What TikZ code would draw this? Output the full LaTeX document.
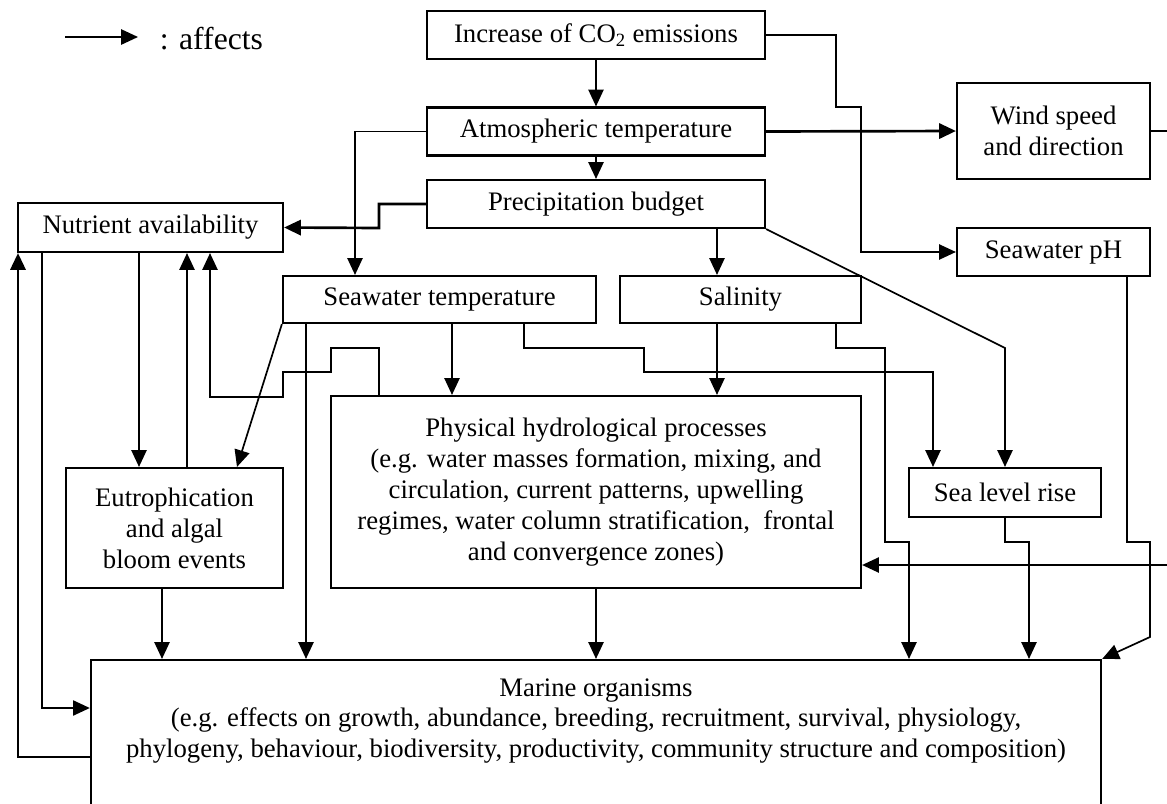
\documentclass[tikz,border=0pt]{standalone}
\usepackage{fontspec}
\setmainfont{Liberation Serif}
\usetikzlibrary{arrows.meta,positioning,calc}

\begin{document}
\begin{tikzpicture}[
    x=0.025cm, y=-0.025cm, % 以像素為單位 (y 向下)
    font=\fontsize{19}{22}\selectfont, % 襯線字體
    line width=1.2pt,
    >={Triangle[length=0.42cm,width=0.38cm]}, % 實心三角箭頭
    % 定義通用樣式
    box/.style={
        draw,
        fill=white,
        line width=1.5pt,
        align=center,
        inner sep=0pt,
        minimum height=1.2cm
    },
    bold line/.style={line width=1.9pt}
]
    \useasboundingbox (0,0) rectangle (1167,804);

    % --- 1. Legend (左上) ---
    \coordinate (legA) at (65,37);
    \coordinate (legB) at (138,37);
    \node[anchor=west, inner sep=0pt, font=\fontsize{22.5}{26}\selectfont] (legend) at (159,39) {: affects};
    \draw[->] (legA) -- (legB);

    % --- 2. 上方方塊 ---
    \node[box, minimum width=8.45cm] (co2) at (596,35) {Increase of CO\textsubscript{2} emissions};
    \node[box, minimum width=8.45cm] (atmos) at (596,131.5) {Atmospheric temperature};
    \node[box, minimum width=8.45cm] (precip) at (596,204) {Precipitation budget};
    \node[box, minimum width=4.825cm, minimum height=2.4cm] (wind) at (1053.5,131) {Wind speed\\and direction};
    \node[box, minimum width=4.825cm] (ph) at (1053.5,252) {Seawater pH};

    % --- 3. 中間方塊 ---
    \node[box, minimum width=6.625cm, minimum height=1.225cm] (nutri) at (150.5,227.5) {Nutrient availability};
    \node[box, minimum width=7.825cm, minimum height=1.175cm] (swtemp) at (439.5,299.5) {Seawater temperature};
    \node[box, minimum width=6.025cm, minimum height=1.175cm] (salin) at (740.5,299.5) {Salinity};
    \node[box, minimum width=5.425cm, minimum height=3cm] (eutro) at (174.5,528) {Eutrophication\\and algal\\bloom events};
    \node[box, minimum width=13.25cm, minimum height=4.8cm] (phys) at (596,492) {Physical hydrological processes\\(e.g. water masses formation, mixing, and\\circulation, current patterns, upwelling\\regimes, water column stratification,~ frontal\\and convergence zones)};
    \node[box, minimum width=4.8cm, minimum height=1.225cm] (slr) at (1005,492.5) {Sea level rise};

    % --- 4. Marine organisms (下方, 底邊在圖外) ---
    \node[box, minimum width=25.25cm, minimum height=4.5cm] (marine) at (596,750) {};
    \node[align=center, inner sep=0pt] (marinetxt) at (596,721) {Marine organisms\\(e.g. effects on growth, abundance, breeding, recruitment, survival, physiology,\\phylogeny, behaviour, biodiversity, productivity, community structure and composition)};

    % --- 5. Arrows (連線) ---
    \draw[->] (co2) -- (atmos);
    \draw[->] (atmos) -- (precip);
    \draw[->] (co2.east) -| (836,107) -| (861,252) -- (ph.west);
    \draw[->, bold line] (atmos.east) -- (wind.west);
    \draw[->] (wind.east) -- (1170,131) |- ($(phys.east)+(0,73)$);
    \draw[->] (atmos.west) -| (355,0 |- swtemp.north);
    \draw[->, bold line] (precip.west) -| (379,228) -- (nutri.east);
    \draw[->] (717,0 |- precip.south) -- (717,0 |- salin.north);
    \draw[->] (precip.south east) -- (1005,348) -- (slr.north);
    \draw[->] (1127,0 |- ph.south) |- (1150,542) -- (1150,637) -- (marine.north east);

    % Seawater temperature 出發
    \draw[->] (swtemp.south west) -- (237,0 |- eutro.north);
    \draw[->] (306,0 |- swtemp.south) -- (306,0 |- marine.north);
    \draw[->] (452,0 |- swtemp.south) -- (452,0 |- phys.north);
    \draw[->] (524,0 |- swtemp.south) |- (644,348) |- (933,372) -- (933,0 |- slr.north);

    % Salinity 出發
    \draw[->] (717,0 |- salin.south) -- (717,0 |- phys.north);
    \draw[->] (836,0 |- salin.south) |- (885,348) |- (909,542) -- (909,0 |- marine.north);
    \draw[->] (slr.south) |- (1029,542) -- (1029,0 |- marine.north);

    % 回饋到 Nutrient availability
    \draw[->] (379,0 |- phys.north) |- (331,348) |- (283,372) |- (210,397) -- (210,0 |- nutri.south);
    \draw[->] (139,0 |- nutri.south) -- (139,0 |- eutro.north);
    \draw[->] (187,0 |- eutro.north) -- (187,0 |- nutri.south);
    \draw[->] (162,0 |- eutro.south) -- (162,0 |- marine.north);
    \draw[->] (phys) -- (marine);
    \draw[->] (42,0 |- nutri.south) |- (marine.west |- 0,708);
    \draw[->, bold line] (marine.west |- 0,757) -| (18,0 |- nutri.south);

\end{tikzpicture}
\end{document}
